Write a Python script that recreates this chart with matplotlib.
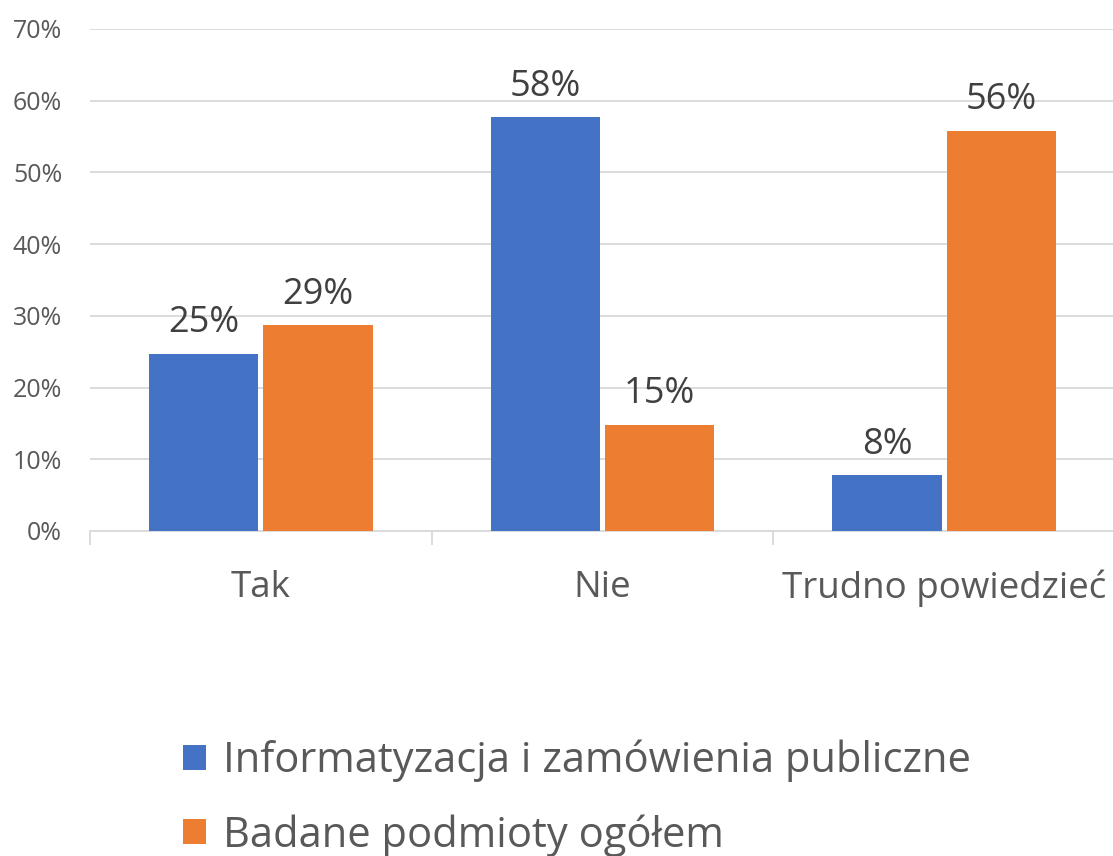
import numpy as np
import matplotlib.pyplot as plt

categories = ["Tak", "Nie", "Trudno powiedzieć"]
series_names = ["Informatyzacja i zamówienia publiczne", "Badane podmioty ogółem"]
informatyzacja = [24.7, 57.7, 7.8]
ogolem = [28.7, 14.8, 55.8]
yticks = [0, 10, 20, 30, 40, 50, 60, 70]

blue = "#4472C4"
orange = "#ED7D31"
grid_c = "#D9D9D9"
txt_c = "#595959"

plt.rcParams['font.family'] = ['Open Sans', 'DejaVu Sans']

fig = plt.figure(figsize=(11.13, 8.56), dpi=100)
ax = fig.add_axes([90/1113, 1 - 531/856, 1025/1113, 502/856])

x = np.arange(len(categories))
w = 0.32
gap = 0.0075
b1 = ax.bar(x - w/2 - gap, informatyzacja, w, color=blue, label=series_names[0], zorder=3)
b2 = ax.bar(x + w/2 + gap, ogolem, w, color=orange, label=series_names[1], zorder=3)

for bars, vals in [(b1, informatyzacja), (b2, ogolem)]:
    for b, v in zip(bars, vals):
        ax.annotate('%d%%' % round(v), (b.get_x() + b.get_width()/2, v),
                    xytext=(0, 9), textcoords='offset points',
                    ha='center', va='bottom', fontsize=26, color='#404040')

ax.set_xlim(-0.5, 2.5)
ax.set_ylim(0, 70)
ax.set_yticks(yticks)
ax.set_yticklabels(['%d%%' % t for t in yticks])
ax.yaxis.grid(True, color=grid_c, linewidth=1.3, zorder=0)
ax.tick_params(axis='y', length=0, labelsize=18, labelcolor=txt_c, pad=20)

# category labels without tick marks, separators as minor ticks
ax.set_xticks(x)
ax.set_xticklabels(categories)
ax.tick_params(axis='x', which='major', length=0, labelsize=26.5, labelcolor=txt_c, pad=28)
ax.set_xticks([-0.5, 0.5, 1.5, 2.5], minor=True)
ax.tick_params(axis='x', which='minor', length=10, width=1.3, color=grid_c)

for s in ['top', 'right', 'left']:
    ax.spines[s].set_visible(False)
ax.spines['bottom'].set_color(grid_c)
ax.spines['bottom'].set_linewidth(1.3)

leg = fig.legend(handles=[b1, b2], loc='upper left', bbox_to_anchor=(183/1113, 1 - 740/856),
                 frameon=False, fontsize=30, labelcolor=txt_c, handlelength=0.55, handleheight=0.55,
                 handletextpad=0.4, labelspacing=0.76, borderpad=0, borderaxespad=0)

fig.savefig("out.png", dpi=100)
